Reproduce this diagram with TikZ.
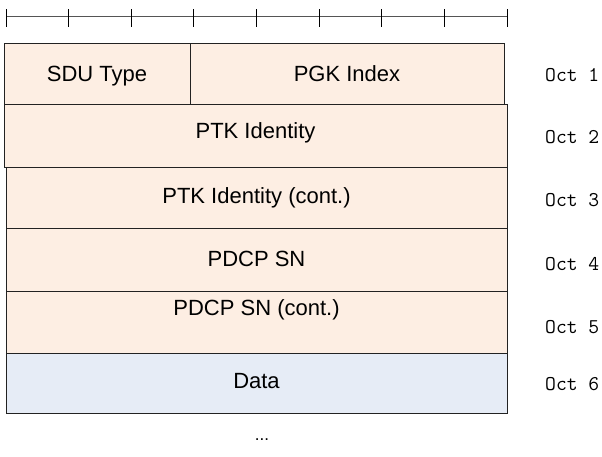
\documentclass[tikz,border=0pt]{standalone}
\usepackage{fontspec}
\setmainfont{Liberation Sans}
\definecolor{peach}{HTML}{FDEEE3}
\definecolor{databg}{HTML}{E6ECF6}
\definecolor{linec}{HTML}{222222}
\definecolor{rulec}{HTML}{555555}
\begin{document}
\begin{tikzpicture}[x=1pt,y=-1pt,
  field/.style={draw=linec, line width=1pt, inner sep=0pt, anchor=north,
    font=\fontsize{22}{24}\selectfont},
  peachfield/.style={field, fill=peach},
  datafield/.style={field, fill=databg},
  octlabel/.style={anchor=base west, inner sep=0pt,
    font=\fontsize{21}{24}\selectfont\ttfamily},
  tick/.style={draw=black, line width=1pt},
  rulerline/.style={draw=rulec, line width=1pt}]
\useasboundingbox (0,0) rectangle (602,457);
% ruler
\coordinate (r0) at (6,17);
\coordinate (r8) at (507,17);
\draw[rulerline] (r0) -- (r8);
\foreach \i in {0,...,8} {
  \coordinate (t\i) at ({6+\i*62.625},17);
  \draw[tick] ([yshift=-10pt]t\i) -- ([yshift=8pt]t\i);
}
% fields
\node[peachfield, minimum width=186, text height=38, text depth=23] (sdu) at (97,43) {SDU Type};
\node[peachfield, minimum width=314, text height=38, text depth=23] (pgk) at (347,43) {PGK Index};
\node[peachfield, minimum width=503, text height=34, text depth=29] (ptk) at (255.5,104) {PTK Identity};
\node[peachfield, minimum width=501, text height=36, text depth=25] (ptkc) at (256.5,167) {PTK Identity (cont.)};
\node[peachfield, minimum width=501, text height=38, text depth=25] (pdcp) at (256.5,228) {PDCP SN};
\node[peachfield, minimum width=501, text height=24, text depth=38] (pdcpc) at (256.5,291) {PDCP SN (cont.)};
\node[datafield, minimum width=501, text height=35, text depth=25] (data) at (256.5,353) {Data};
% octet labels
\node[octlabel] (o1) at (545,82) {Oct 1};
\node[octlabel] (o2) at (545,144) {Oct 2};
\node[octlabel] (o3) at (545,207) {Oct 3};
\node[octlabel] (o4) at (545,270) {Oct 4};
\node[octlabel] (o5) at (545,333) {Oct 5};
\node[octlabel] (o6) at (545,390) {Oct 6};
% continuation
\node[font=\fontsize{17}{18}\selectfont, inner sep=0pt] (dots) at (262,440) {...};
\end{tikzpicture}
\end{document}
